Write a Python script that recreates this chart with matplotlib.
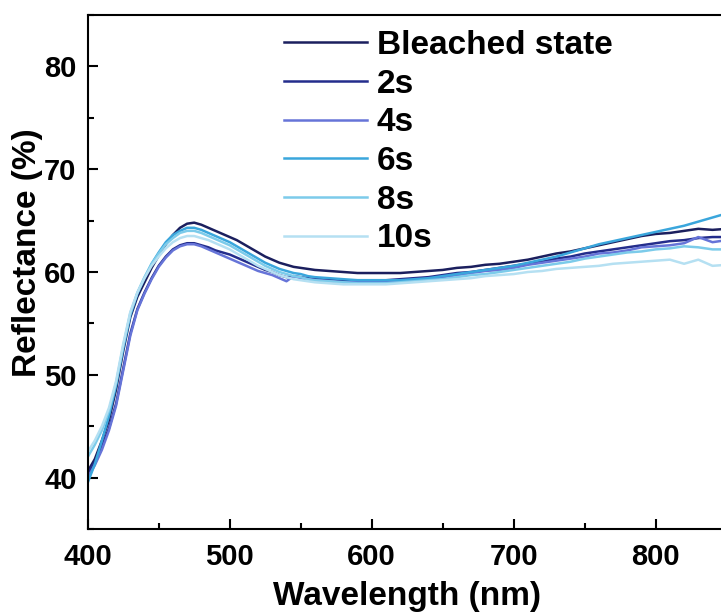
import matplotlib
matplotlib.use("Agg")
import matplotlib.pyplot as plt
from matplotlib.ticker import MultipleLocator

plt.rcParams['font.family'] = ['Liberation Sans', 'DejaVu Sans']
plt.rcParams['font.weight'] = 'bold'

# 5 nm readings up to 560 nm, 10 nm readings beyond
wavelength = list(range(400, 561, 5)) + list(range(570, 851, 10))

labels = ["Bleached state", "2s", "4s", "6s", "8s", "10s"]
colors = ["#1b1f5e", "#242d8c", "#6674d8", "#3aa6dc", "#7ccbea", "#b5e0f2"]

bleached = [40.6, 41.8, 43.6, 45.6, 48.6, 52.3, 55.6, 57.6, 59.0, 60.4, 61.6, 62.7, 63.6, 64.3,
            64.7, 64.8, 64.6, 64.3, 64.0, 63.7, 63.4, 63.1, 62.7, 62.3, 61.9, 61.5, 61.2, 60.9,
            60.7, 60.5, 60.4, 60.3, 60.2,
            60.1, 60.0, 59.9, 59.9, 59.9, 59.9, 60.0, 60.1, 60.2, 60.4, 60.5, 60.7, 60.8, 61.0,
            61.2, 61.5, 61.8, 62.0, 62.3, 62.6, 62.9, 63.2, 63.5, 63.7, 63.8, 64.0, 64.2, 64.1, 64.2]
s2 = [40.4, 41.5, 43.0, 44.8, 47.2, 50.6, 54.0, 56.4, 58.0, 59.4, 60.6, 61.5, 62.2, 62.6,
      62.8, 62.8, 62.6, 62.4, 62.1, 61.9, 61.7, 61.4, 61.1, 60.8, 60.5, 60.2, 60.0, 59.7,
      59.5, 59.6, 59.5, 59.4, 59.3,
      59.3, 59.2, 59.2, 59.2, 59.2, 59.3, 59.4, 59.5, 59.7, 59.9, 60.0, 60.2, 60.4, 60.6,
      60.8, 61.0, 61.3, 61.5, 61.8, 62.0, 62.2, 62.4, 62.6, 62.8, 63.0, 63.1, 63.3, 63.4, 63.4]
s4 = [40.0, 41.2, 42.7, 44.6, 47.0, 50.4, 53.8, 56.3, 57.9, 59.3, 60.5, 61.4, 62.1, 62.5,
      62.7, 62.7, 62.5, 62.2, 61.9, 61.6, 61.3, 61.0, 60.7, 60.4, 60.1, 59.9, 59.7, 59.4,
      59.1, 59.6, 59.4, 59.3, 59.2,
      59.1, 59.0, 59.0, 59.0, 59.1, 59.1, 59.2, 59.3, 59.5, 59.7, 59.9, 60.1, 60.2, 60.4,
      60.7, 60.9, 61.1, 61.3, 61.5, 61.8, 61.9, 62.1, 62.4, 62.5, 62.6, 62.8, 63.4, 62.9, 63.1]
s6 = [39.5, 41.3, 43.6, 46.0, 49.0, 52.6, 55.8, 57.9, 59.4, 60.8, 61.9, 62.9, 63.6, 64.0,
      64.3, 64.3, 64.1, 63.8, 63.5, 63.2, 62.9, 62.5, 62.1, 61.7, 61.3, 60.9, 60.6, 60.3,
      60.1, 59.9, 59.8, 59.6, 59.5,
      59.4, 59.3, 59.2, 59.2, 59.2, 59.2, 59.3, 59.4, 59.6, 59.8, 60.0, 60.2, 60.4, 60.6,
      60.9, 61.2, 61.5, 61.9, 62.3, 62.7, 63.0, 63.3, 63.6, 63.9, 64.2, 64.5, 64.9, 65.3, 65.7]
s8 = [42.0, 43.2, 44.6, 46.5, 49.2, 52.8, 56.0, 58.0, 59.5, 60.8, 61.8, 62.7, 63.3, 63.8,
      64.0, 64.0, 63.8, 63.5, 63.2, 62.9, 62.6, 62.2, 61.8, 61.4, 61.0, 60.6, 60.3, 60.0,
      59.8, 59.6, 59.5, 59.3, 59.2,
      59.1, 59.0, 58.9, 58.9, 58.9, 59.0, 59.1, 59.2, 59.3, 59.5, 59.7, 59.8, 60.0, 60.2,
      60.4, 60.6, 60.8, 61.0, 61.3, 61.5, 61.7, 61.9, 62.0, 62.2, 62.3, 62.5, 62.4, 62.2, 62.2]
s10 = [42.5, 43.6, 45.0, 46.8, 49.4, 53.0, 56.1, 58.0, 59.4, 60.6, 61.5, 62.3, 62.9, 63.3,
       63.5, 63.5, 63.3, 63.1, 62.8, 62.5, 62.2, 61.8, 61.4, 61.0, 60.6, 60.3, 60.0, 59.7,
       59.5, 59.3, 59.2, 59.1, 59.0,
       58.9, 58.8, 58.8, 58.8, 58.8, 58.9, 59.0, 59.1, 59.2, 59.3, 59.4, 59.6, 59.7, 59.8,
       60.0, 60.1, 60.3, 60.4, 60.5, 60.6, 60.8, 60.9, 61.0, 61.1, 61.2, 60.8, 61.2, 60.6, 60.7]

series = [bleached, s2, s4, s6, s8, s10]

fig = plt.figure(figsize=(7.21, 6.16), dpi=100)
W, H = 721, 616
ax = fig.add_axes([87.7 / W, (H - 529) / H, 639 / W, 514 / H])

for y, c, lab in zip(series, colors, labels):
    ax.plot(wavelength, y, color=c, lw=1.8, label=lab)

ax.set_xlim(400, 850)
ax.set_ylim(35, 85)
ax.xaxis.set_major_locator(MultipleLocator(100))
ax.xaxis.set_minor_locator(MultipleLocator(50))
ax.yaxis.set_major_locator(MultipleLocator(10))
ax.yaxis.set_minor_locator(MultipleLocator(5))
ax.set_yticks([40, 50, 60, 70, 80])

for s in ['left', 'bottom', 'top']:
    ax.spines[s].set_linewidth(1.5)
ax.spines['right'].set_visible(False)

ax.tick_params(which='major', direction='in', length=7, width=1.5, labelsize=21, pad=10)
ax.tick_params(which='minor', direction='in', length=4, width=1.5)
ax.tick_params(axis='y', pad=8)
for t in ax.get_xticklabels() + ax.get_yticklabels():
    t.set_fontweight('bold')

ax.set_xlabel("Wavelength (nm)", fontsize=24, fontweight='bold', labelpad=7)
ax.set_ylabel("Reflectance (%)", fontsize=24, fontweight='bold', labelpad=1)
ax.yaxis.label.set_y(0.537)

leg = ax.legend(loc='upper left', bbox_to_anchor=(284 / W, 1 - 30 / H),
                bbox_transform=fig.transFigure, frameon=False,
                prop={'size': 24, 'weight': 'bold'}, handlelength=2.5,
                handletextpad=0.28, labelspacing=0.23, borderpad=0, borderaxespad=0)

fig.savefig("out.png", dpi=100)
